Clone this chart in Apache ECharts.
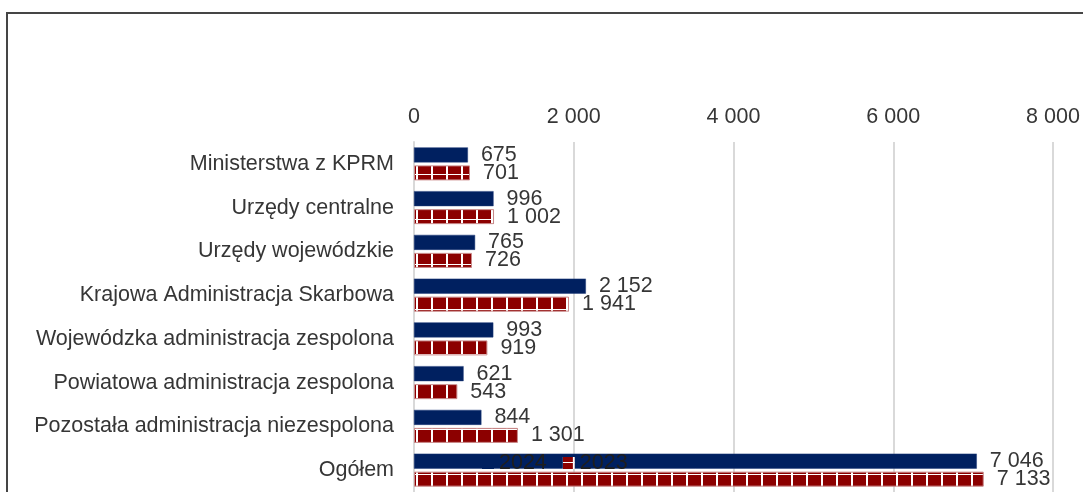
<!DOCTYPE html>
<html>
<head>
<meta charset="utf-8">
<script src="https://cdn.jsdelivr.net/npm/echarts@6/dist/echarts.min.js"></script>
<style>
  html, body { margin: 0; padding: 0; background: #fff; }
  #chart { width: 1083px; height: 492px; }
</style>
</head>
<body>
<div id="chart"></div>
<script>
// Employment by type of administration unit, 2024 vs 2023
const categories = [
  'Ministerstwa z KPRM',
  'Urzędy centralne',
  'Urzędy wojewódzkie',
  'Krajowa Administracja Skarbowa',
  'Wojewódzka administracja zespolona',
  'Powiatowa administracja zespolona',
  'Pozostała administracja niezespolona',
  'Ogółem'
];
const values2024 = [675, 996, 765, 2152, 993, 621, 844, 7046];
const values2023 = [701, 1002, 726, 1941, 919, 543, 1301, 7133];
const seriesNames = ['2024', '2023'];
const axisMin = 0;
const axisMax = 8000;
const axisStep = 2000;

const NAVY = '#002060';
const DARK_RED = '#8c0000';
const FONT = '"Liberation Sans", Arial, sans-serif';
const TEXT = '#363636';
const FS = 21.5;

// thousands separated by a space: 7133 -> "7 133"
function fmt(v) {
  return String(v).replace(/\B(?=(\d{3})+(?!\d))/g, ' ');
}

// brick tile: dark red squares divided by thin white lines
function brickTile(size, colX, rowY) {
  const c = document.createElement('canvas');
  c.width = size; c.height = size;
  const ctx = c.getContext('2d');
  ctx.fillStyle = DARK_RED;
  ctx.fillRect(0, 0, size, size);
  ctx.fillStyle = '#ffffff';
  ctx.fillRect(colX, 0, 2, size);
  ctx.fillRect(0, rowY, size, 1);
  return c;
}

const barPattern = { image: brickTile(15, 11, 9), repeat: 'repeat' };
const legendPattern = { image: brickTile(12, 10, 5), repeat: 'repeat' };

const chart = echarts.init(document.getElementById('chart'), null, { renderer: 'canvas' });

const labelStyle = {
  show: true,
  position: 'right',
  distance: 13,
  fontSize: FS,
  fontFamily: FONT,
  color: TEXT,
  formatter: p => fmt(p.value)
};

chart.setOption({
  animation: false,
  backgroundColor: '#ffffff',
  textStyle: { fontFamily: FONT },
  graphic: [{
    type: 'rect',
    silent: true,
    z: 100,
    shape: { x: 7, y: 13, width: 1300, height: 700 },
    style: { fill: 'transparent', stroke: '#454545', lineWidth: 2 }
  }],
  grid: { left: 414, top: 142, width: 639, height: 352, containLabel: false },
  legend: {
    left: 482,
    top: 452,
    padding: 0,
    itemWidth: 12,
    itemHeight: 12,
    itemGap: 16,
    icon: 'rect',
    itemStyle: { borderWidth: 0 },
    textStyle: { fontSize: FS, fontFamily: FONT, color: '#1e1e1e' },
    data: [
      { name: seriesNames[0] },
      { name: seriesNames[1], itemStyle: { color: legendPattern, borderWidth: 0 } }
    ]
  },
  xAxis: {
    type: 'value',
    position: 'top',
    min: axisMin,
    max: axisMax,
    interval: axisStep,
    axisLine: { show: false },
    axisTick: { show: false },
    axisLabel: {
      fontSize: FS,
      fontFamily: FONT,
      color: TEXT,
      margin: 14,
      formatter: v => fmt(v)
    },
    splitLine: { show: true, lineStyle: { color: '#d9d9d9', width: 2 } }
  },
  yAxis: {
    type: 'category',
    inverse: true,
    data: categories,
    axisLine: { show: true, lineStyle: { color: '#d9d9d9', width: 2 } },
    axisTick: { show: false },
    axisLabel: {
      fontSize: FS,
      fontFamily: FONT,
      color: TEXT,
      margin: 20
    }
  },
  series: [
    {
      name: seriesNames[0],
      type: 'bar',
      data: values2024,
      barWidth: 15,
      barGap: '20%',
      itemStyle: { color: NAVY, borderColor: '#1f3a78', borderWidth: 0.5 },
      label: labelStyle
    },
    {
      name: seriesNames[1],
      type: 'bar',
      data: values2023,
      barWidth: 15,
      barGap: '20%',
      itemStyle: { color: barPattern, borderColor: '#c98a8a', borderWidth: 1 },
      label: labelStyle
    }
  ]
});
</script>
</body>
</html>
